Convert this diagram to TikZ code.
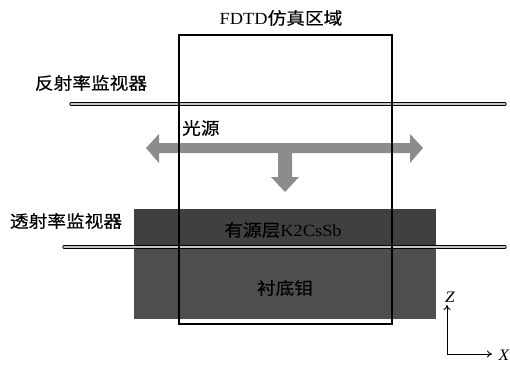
\documentclass[tikz,border=0pt]{standalone}
\usepackage{fontspec}
\setmainfont{Liberation Serif}[FakeStretch=1.08]
\newfontfamily\cjk{Noto Sans CJK SC}[FakeStretch=1.1,FakeBold=0.3]
\usetikzlibrary{arrows.meta}
\definecolor{activegray}{HTML}{404040}
\definecolor{subgray}{HTML}{4E4E4E}
\definecolor{arrowgray}{HTML}{8C8C8C}
\tikzset{
  lbl/.style={inner sep=0pt, font=\fontsize{17}{20}\selectfont},
  layer/.style={draw=none, inner sep=0pt, anchor=north west},
  monitor/.style={draw=black, line width=0.8pt, double=gray!45, double distance=1.6pt, line cap=round},
  fdtdbox/.style={draw=black, line width=1.6pt, inner sep=0pt, anchor=north west, minimum width=213pt, minimum height=289pt},
  axisline/.style={line width=0.9pt, -{To[length=5pt,width=7pt]}}
}
\begin{document}
\begin{tikzpicture}[x=1pt,y=-1pt]
\useasboundingbox (0,0) rectangle (510,370);
% layers
\node[layer, fill=activegray, minimum width=302pt, minimum height=39pt] (active) at (134,209) {};
\node[layer, fill=subgray, minimum width=302pt, minimum height=71pt] (sub) at (134,248) {};
\node[lbl] (activetxt) at (283,230) {{\cjk 有源层}K2CsSb};
\node[lbl] (subtxt) at (285,288) {\cjk 衬底钼};
% monitors
\coordinate (rl) at (71,104);
\coordinate (rr) at (505,104);
\coordinate (tl) at (64,247);
\coordinate (tr) at (505,247);
\draw[monitor] (rl) -- (rr);
\draw[monitor] (tl) -- (tr);
\node[lbl] (reflbl) at (91,83) {\cjk 反射率监视器};
\node[lbl] (translbl) at (66,221) {\cjk 透射率监视器};
% source arrows
\fill[arrowgray] (146,148) -- (159,134) -- (159,143) -- (277,143) -- (410,143) -- (410,134) -- (423,148)
  -- (410,163) -- (410,153) -- (292,153) -- (292,177) -- (299,177) -- (285,192) -- (271,177) -- (278,177)
  -- (278,153) -- (159,153) -- (159,163) -- cycle;
\node[lbl, anchor=west] (srclbl) at (182,128) {\cjk 光源};
% FDTD region
\node[fdtdbox] (fdtd) at (178,34) {};
\node[lbl] (fdtdlbl) at (281,18) {FDTD{\cjk 仿真区域}};
% axes
\coordinate (o) at (447,354);
\coordinate (zend) at (447,305);
\coordinate (xend) at (492,354);
\draw[axisline] (o) -- (zend);
\draw[axisline] (o) -- (xend);
\node[lbl, font=\fontsize{16}{18}\selectfont\itshape] (zlbl) at (450,297) {Z};
\node[lbl, font=\fontsize{16}{18}\selectfont\itshape] (xlbl) at (504,355) {X};
\end{tikzpicture}
\end{document}
